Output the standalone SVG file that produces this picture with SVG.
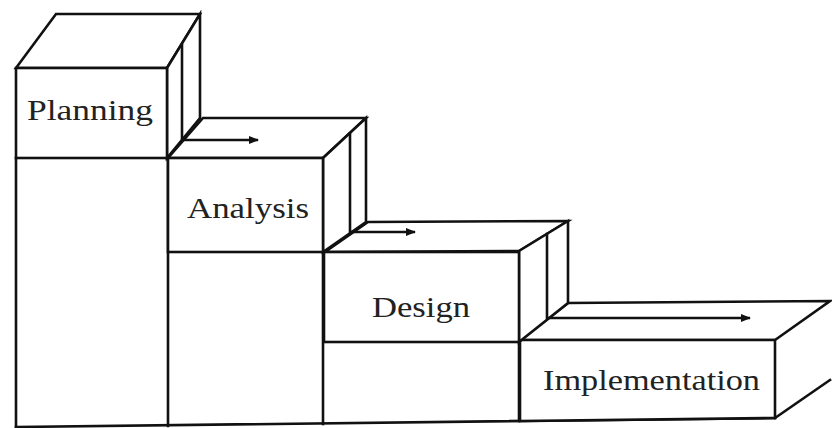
<svg xmlns="http://www.w3.org/2000/svg" width="832" height="428" viewBox="0 0 832 428">
<defs>
<marker id="ah" viewBox="0 0 10 10" refX="9" refY="5" markerWidth="10" markerHeight="10" markerUnits="userSpaceOnUse" orient="auto">
<path d="M0,1 L10,5 L0,9 Z" fill="#111"/>
</marker>
<style>
.ln{fill:none;stroke:#111;stroke-width:2.6;stroke-linejoin:miter;stroke-linecap:square}
.face{fill:#fff;stroke:#111;stroke-width:2.6;stroke-linejoin:miter}
.lbl{font-family:"Liberation Serif","Times New Roman",serif;font-size:30px;fill:#222}
.arr{fill:none;stroke:#111;stroke-width:2.4;marker-end:url(#ah)}
</style>
</defs>
<rect width="832" height="428" fill="#fff"/>
<g id="columns">
<polyline class="ln" points="16,158 16,427"/>
<polyline class="ln" points="168,158 168,426"/>
<polyline class="ln" points="323,252 323,424"/>
<polyline class="ln" points="519,342 519,421"/>
<polyline class="ln" points="16,427 775,418"/>
</g>
<g id="implementation">
<polygon class="face" points="520,340 568,303 830,301 775,340"/>
<polygon class="face" points="520,340 775,340 775,418 520,421"/>
<polyline class="ln" points="775,418 830,380"/>
<text class="lbl" x="543" y="390" textLength="217" lengthAdjust="spacingAndGlyphs">Implementation</text>
</g>
<g id="design">
<polygon class="face" points="325,252 368,222 568,221 519,251"/>
<polygon class="face" points="519,251 568,221 568,303 519,342"/>
<polyline class="ln" points="547,234 547,318"/>
<rect class="face" x="324" y="252" width="195" height="90"/>
<text class="lbl" x="372" y="317" textLength="98" lengthAdjust="spacingAndGlyphs">Design</text>
</g>
<g id="analysis">
<polygon class="face" points="168,158 203,118 366,118 323,158"/>
<polygon class="face" points="323,158 366,118 366,222 323,252"/>
<polyline class="ln" points="350,134 350,233"/>
<rect class="face" x="168" y="158" width="155" height="94"/>
<text class="lbl" x="187" y="218" textLength="122" lengthAdjust="spacingAndGlyphs">Analysis</text>
</g>
<g id="planning">
<polygon class="face" points="16,68 56,14 200,14 167,68"/>
<polygon class="face" points="167,68 200,14 200,118 167,158"/>
<polyline class="ln" points="182,45 182,139"/>
<rect class="face" x="16" y="68" width="151" height="90"/>
<text class="lbl" x="27" y="120" textLength="126" lengthAdjust="spacingAndGlyphs">Planning</text>
</g>
<g id="connectors">
<line class="arr" x1="183" y1="140" x2="258" y2="140"/>
<line class="arr" x1="351" y1="232" x2="415" y2="232"/>
<line class="arr" x1="548" y1="318" x2="750" y2="318"/>
</g>
</svg>
